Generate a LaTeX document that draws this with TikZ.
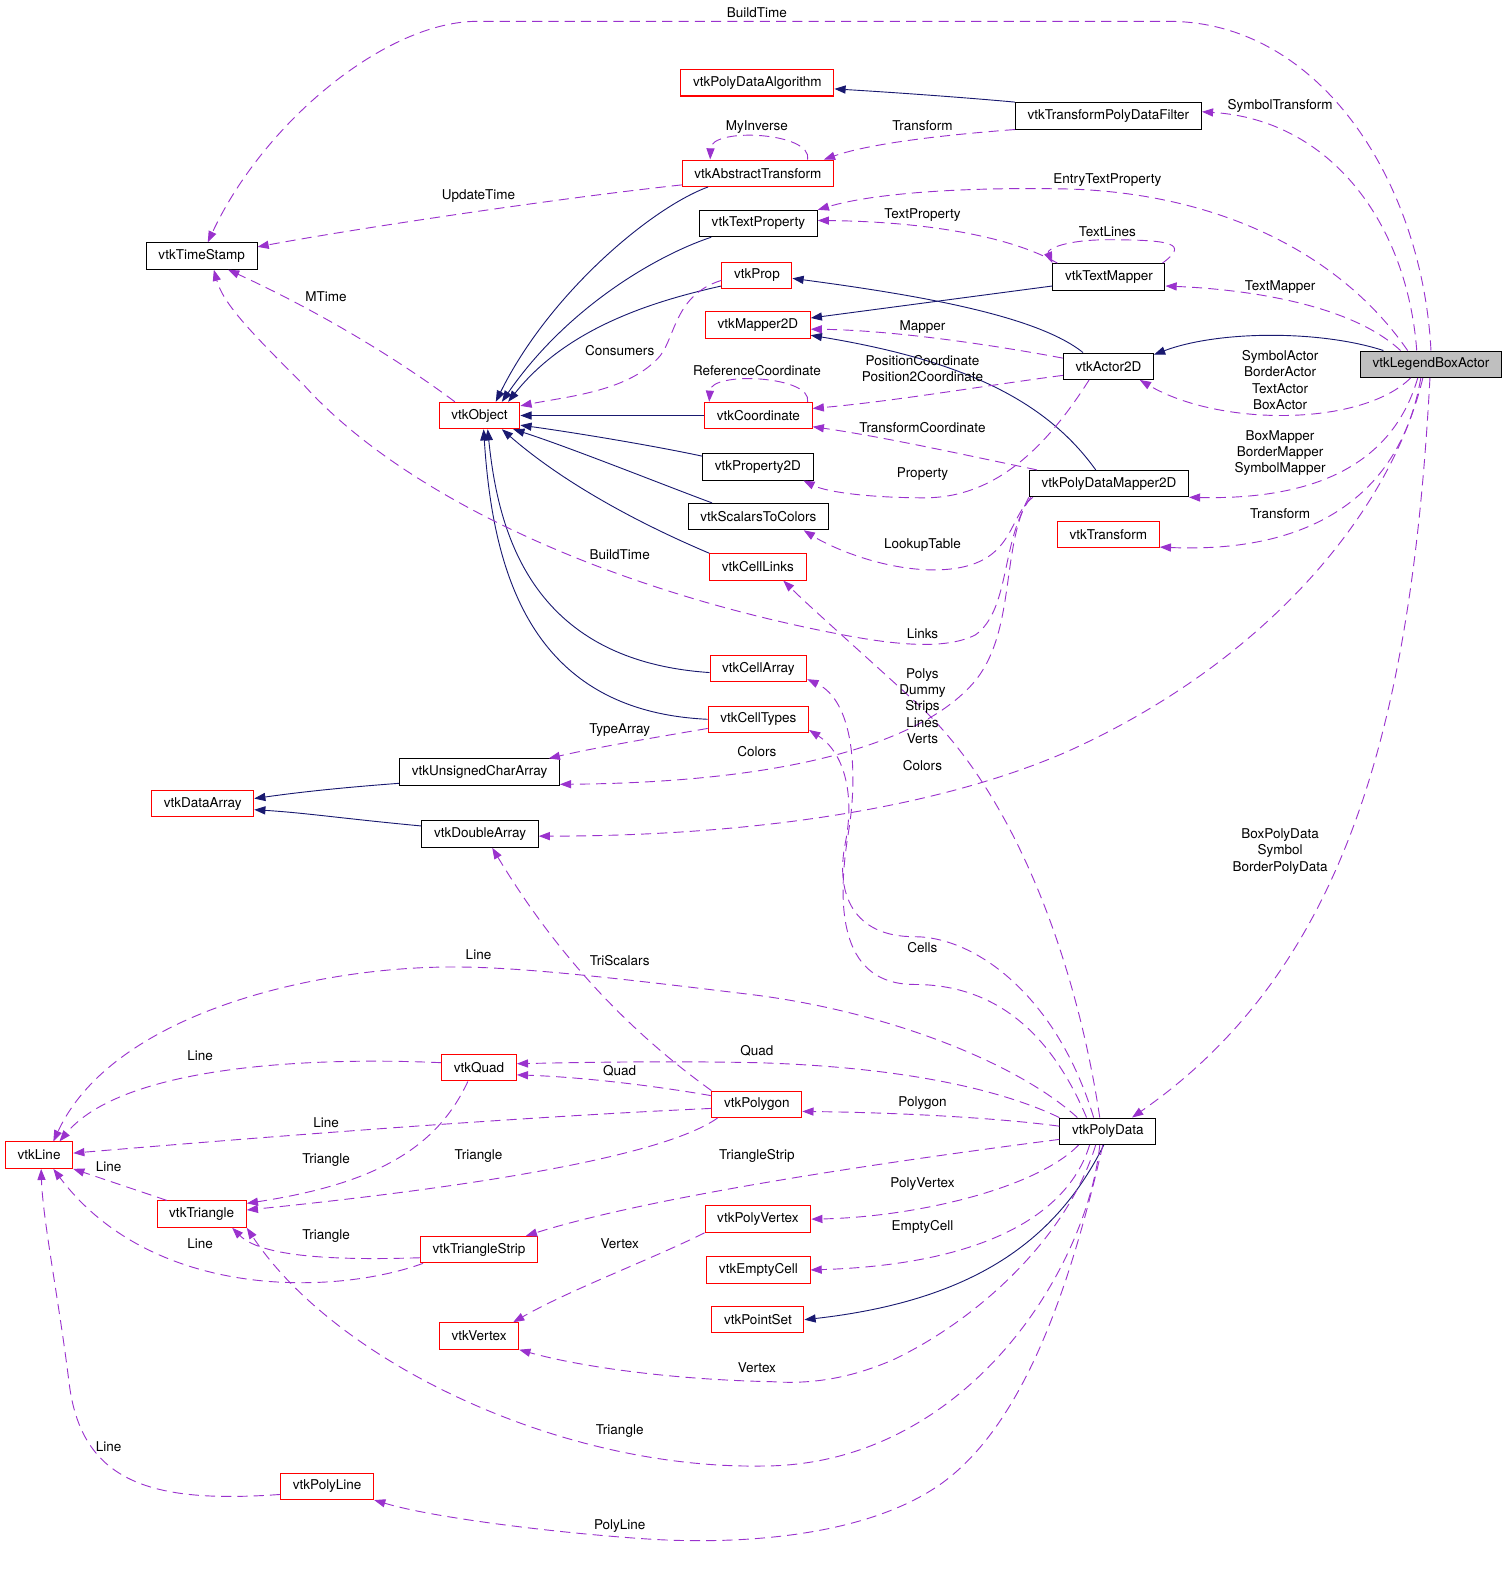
\documentclass[tikz,border=0pt]{standalone}
\usepackage{fontspec}
\setmainfont{TeX Gyre Heros}
\usetikzlibrary{arrows.meta,calc}
\definecolor{inhblue}{HTML}{191970}
\definecolor{usepurple}{HTML}{9A32CD}
\definecolor{docred}{HTML}{FF0000}
\definecolor{rootgray}{HTML}{BFBFBF}
\begin{document}
\begin{tikzpicture}[x=1pt,y=-1pt,
        cls/.style={draw=black,line width=1pt,fill=white,font=\fontsize{13.3}{16}\selectfont,inner xsep=12pt,inner ysep=0pt,minimum height=26pt},
        redcls/.style={cls,draw=docred},
        rootcls/.style={cls,fill=rootgray},
        lbl/.style={font=\fontsize{13.3}{16}\selectfont,inner sep=0pt,align=center},
        inh/.style={draw=inhblue,line width=0.9pt,-{Triangle[length=11pt,width=8pt]}},
        usage/.style={draw=usepurple,line width=0.9pt,dash pattern=on 10pt off 6pt,-{Triangle[length=11pt,width=8pt]}}]
            \useasboundingbox (0,0) rectangle (1483,1568);
            \node [rootcls] (lba) at (1408.5,358.5) {vtkLegendBoxActor};
            \node [redcls] (pda) at (745.5,81.5) {vtkPolyDataAlgorithm};
            \node [cls] (tpdf) at (1091,114) {vtkTransformPolyDataFilter};
            \node [redcls] (at) at (746,170.5) {vtkAbstractTransform};
            \node [cls] (tp) at (746.5,220) {vtkTextProperty};
            \node [cls] (ts) at (198.5,252) {vtkTimeStamp};
            \node [redcls] (prop) at (745,271) {vtkProp};
            \node [cls] (tm) at (1091.5,272.5) {vtkTextMapper};
            \node [redcls] (m2d) at (746,320) {vtkMapper2D};
            \node [cls] (a2d) at (1091,360.5) {vtkActor2D};
            \node [redcls] (obj) at (472,409) {vtkObject};
            \node [redcls] (coord) at (746.5,409) {vtkCoordinate};
            \node [cls] (p2d) at (746,459.5) {vtkProperty2D};
            \node [cls] (pdm) at (1091.5,476) {vtkPolyDataMapper2D};
            \node [cls] (stc) at (746.5,508.5) {vtkScalarsToColors};
            \node [redcls] (tr) at (1091,526) {vtkTransform};
            \node [redcls] (cl) at (746,558) {vtkCellLinks};
            \node [redcls] (ca) at (746.5,658) {vtkCellArray};
            \node [redcls] (ct) at (746.5,708) {vtkCellTypes};
            \node [cls] (uca) at (472,760) {vtkUnsignedCharArray};
            \node [redcls] (da) at (199.5,791) {vtkDataArray};
            \node [cls] (dbl) at (472.5,821) {vtkDoubleArray};
            \node [redcls] (quad) at (471.5,1051) {vtkQuad};
            \node [redcls] (pg) at (745,1087) {vtkPolygon};
            \node [cls] (pd) at (1090.5,1113.5) {vtkPolyData};
            \node [redcls] (line) at (38.5,1137) {vtkLine};
            \node [redcls] (tri) at (198.5,1195) {vtkTriangle};
            \node [redcls] (pv) at (746,1200) {vtkPolyVertex};
            \node [redcls] (tstrip) at (471.5,1230) {vtkTriangleStrip};
            \node [redcls] (ec) at (746.5,1250) {vtkEmptyCell};
            \node [redcls] (ps) at (746,1299) {vtkPointSet};
            \node [redcls] (vx) at (471.5,1315) {vtkVertex};
            \node [redcls] (pl) at (322,1463) {vtkPolyLine};
            \draw [inh] (tpdf.north west) .. controls (950,96) and (880,91) .. ($(pda.east)+(0,6)$);
            \draw [inh] ($(at.south)+(-49,0)$) .. controls (640,205) and (540,290) .. ($(obj.north)+(16,0)$);
            \draw [inh] ($(tp.south west)+(12,0)$) .. controls (650,250) and (560,300) .. ($(obj.north)+(22,0)$);
            \draw [inh] ($(prop.south west)+(0,-3)$) .. controls (650,295) and (560,320) .. ($(obj.north east)+(-12,0)$);
            \draw [inh] (coord.west) -- (obj.east);
            \draw [inh] ($(p2d.north west)+(0,3)$) .. controls (640,438) and (560,425) .. ($(obj.south east)+(0,-4)$);
            \draw [inh] ($(stc.north west)+(24,0)$) .. controls (660,480) and (560,440) .. ($(obj.south east)+(-7,0)$);
            \draw [inh] (cl.north west) .. controls (640,520) and (560,480) .. ($(obj.south)+(22,0)$);
            \draw [inh] ($(ca.west)+(0,4)$) .. controls (520,650) and (490,520) .. ($(obj.south)+(8,0)$);
            \draw [inh] (ct.west) .. controls (520,700) and (485,560) .. ($(obj.south)+(4,0)$);
            \draw [inh] ($(a2d.north)+(-25,0)$) .. controls (1020,310) and (900,290) .. ($(prop.east)+(0,3)$);
            \draw [inh] ($(tm.west)+(0,9)$) -- ($(m2d.east)+(0,-7)$);
            \draw [inh] ($(pdm.north)+(-13,0)$) .. controls (1030,395) and (950,355) .. ($(m2d.east)+(0,10)$);
            \draw [inh] ($(lba.north west)+(23,0)$) .. controls (1300,325) and (1200,325) .. ($(a2d.north east)+(0,2)$);
            \draw [inh] ($(uca.west)+(0,11)$) .. controls (340,775) and (300,779) .. ($(da.east)+(0,-5)$);
            \draw [inh] ($(dbl.west)+(0,-8)$) .. controls (340,806) and (300,800) .. ($(da.east)+(0,6)$);
            \draw [inh] ($(pd.south)+(-4,0)$) .. controls (1040,1220) and (960,1280) .. (ps.east);
            \draw [usage] (lba.north) .. controls (1400,180) and (1300,21) .. (1150,21) -- (470,21) .. controls (380,21) and (260,120) .. ($(ts.north)+(6,0)$);
            \draw [usage] ($(lba.north)+(-14,0)$) .. controls (1385,220) and (1310,118) .. ($(tpdf.east)+(0,-4)$);
            \draw [usage] ($(lba.north)+(-23,0)$) .. controls (1320,250) and (1200,190) .. (1050,186) .. controls (950,184) and (860,190) .. (tp.north east);
            \draw [usage] ($(lba.north)+(-30,0)$) .. controls (1330,300) and (1230,285) .. ($(tm.east)+(0,9)$);
            \draw [usage] ($(lba.south)+(-20,0)$) .. controls (1340,420) and (1200,420) .. ($(a2d.south east)+(-14,0)$);
            \draw [usage] ($(lba.south)+(-13,0)$) .. controls (1370,460) and (1290,492) .. (pdm.south east);
            \draw [usage] ($(lba.south)+(-10,0)$) .. controls (1380,480) and (1300,545) .. ($(tr.south east)+(0,-1)$);
            \draw [usage] ($(lba.south)+(-8,0)$) .. controls (1370,500) and (1250,650) .. (1050,740) .. controls (900,805) and (700,823) .. ($(dbl.east)+(0,2)$);
            \draw [usage] ($(lba.south)+(-1,0)$) .. controls (1390,700) and (1330,950) .. ($(pd.north east)+(-24,0)$);
            \draw [usage] (tpdf.south west) .. controls (940,132) and (860,140) .. ($(at.north east)+(-10,0)$);
            \draw [usage] ($(at.north)+(49,0)$) .. controls (800,130) and (700,125) .. ($(at.north west)+(28,0)$);
            \draw [usage] ($(at.south west)+(0,-2)$) .. controls (550,195) and (350,225) .. ($(ts.east)+(0,-9)$);
            \draw [usage] ($(tm.north west)+(5,0)$) .. controls (990,230) and (900,218) .. ($(tp.east)+(0,-3)$);
            \draw [usage] ($(tm.north east)+(-3,0)$) .. controls (1170,240) and (1155,236) .. (1090,236) .. controls (1050,236) and (1030,245) .. (tm.north west);
            \draw [usage] ($(a2d.west)+(0,-8)$) .. controls (980,340) and (880,325) .. ($(m2d.east)+(0,4)$);
            \draw [usage] ($(a2d.west)+(0,9)$) .. controls (980,378) and (880,395) .. ($(coord.east)+(0,-7)$);
            \draw [usage] ($(a2d.south)+(-19,0)$) .. controls (1030,440) and (980,490) .. (910,490) .. controls (860,490) and (815,485) .. ($(p2d.south east)+(-10,0)$);
            \draw [usage] ($(pdm.north west)+(8,0)$) .. controls (960,450) and (870,430) .. ($(coord.east)+(0,11)$);
            \draw [usage] ($(coord.north east)+(-5,0)$) .. controls (800,370) and (700,365) .. ($(coord.north west)+(5,0)$);
            \draw [usage] ($(obj.north west)+(16,0)$) .. controls (380,345) and (300,300) .. ($(ts.south)+(26,0)$);
            \draw [usage] ($(prop.west)+(0,5)$) .. controls (665,290) and (665,330) .. (650,350) .. controls (620,385) and (560,390) .. ($(obj.north east)+(0,4)$);
            \draw [usage] ($(pdm.south west)+(4,0)$) .. controls (990,510) and (1000,560) .. (920,561) .. controls (870,561) and (820,540) .. ($(stc.south east)+(-25,0)$);
            \draw [usage] ($(pdm.south west)+(2,0)$) .. controls (985,530) and (995,600) .. (960,625) .. controls (930,640) and (880,635) .. (820,623) .. controls (600,580) and (400,490) .. (300,380) .. controls (250,330) and (220,300) .. ($(ts.south)+(12,0)$);
            \draw [usage] (pdm.south west) .. controls (985,540) and (1000,620) .. (960,670) .. controls (910,730) and (780,770) .. ($(uca.east)+(0,12)$);
            \draw [usage] ($(ct.west)+(0,9)$) .. controls (650,725) and (590,735) .. ($(uca.north east)+(-11,0)$);
            \draw [usage] ($(pd.north)+(-8,0)$) .. controls (1060,950) and (1000,780) .. (900,690) .. controls (840,635) and (800,600) .. ($(cl.south)+(25,0)$);
            \draw [usage] ($(pd.north)+(-21,0)$) .. controls (1040,1030) and (990,969) .. (900,969) .. controls (830,969) and (822,900) .. (835,820) .. controls (845,760) and (840,690) .. ($(ca.south east)+(0,-3)$);
            \draw [usage] ($(pd.north)+(-14,0)$) .. controls (1040,980) and (960,922) .. (900,922) .. controls (840,922) and (822,880) .. (832,830) .. controls (842,780) and (830,740) .. ($(ct.south east)+(0,-3)$);
            \draw [usage] (pd.north west) .. controls (980,1070) and (880,1050) .. (745,1046) .. controls (650,1044) and (560,1046) .. ($(quad.east)+(0,-4)$);
            \draw [usage] ($(pd.west)+(0,-5)$) .. controls (980,1100) and (880,1095) .. ($(pg.east)+(0,7)$);
            \draw [usage] ($(pd.north)+(-30,0)$) .. controls (1000,1045) and (870,995) .. (740,979) .. controls (600,962) and (500,950) .. (430,952) .. controls (300,955) and (110,1000) .. ($(line.north)+(14,0)$);
            \draw [usage] ($(pd.west)+(0,8)$) .. controls (900,1140) and (650,1175) .. ($(tstrip.north east)+(-12,0)$);
            \draw [usage] ($(pd.south west)+(19,0)$) .. controls (1020,1170) and (900,1198) .. (pv.east);
            \draw [usage] ($(pd.south)+(-18,0)$) .. controls (1050,1200) and (960,1245) .. (ec.east);
            \draw [usage] ($(pd.south)+(-12,0)$) .. controls (1050,1220) and (960,1300) .. (880,1338) .. controls (830,1360) and (790,1362) .. (760,1360) .. controls (660,1358) and (570,1345) .. (vx.south east);
            \draw [usage] ($(pd.south)+(-8,0)$) .. controls (1070,1250) and (950,1443) .. (750,1443) .. controls (550,1446) and (330,1340) .. (tri.south east);
            \draw [usage] ($(pd.south)+(-5,0)$) .. controls (1055,1260) and (1010,1400) .. (927,1460) .. controls (850,1515) and (720,1520) .. (640,1515) .. controls (560,1510) and (430,1495) .. (pl.south east);
            \draw [usage] ($(pg.north west)+(0,5)$) .. controls (640,1068) and (570,1060) .. ($(quad.east)+(0,7)$);
            \draw [usage] ($(pg.west)+(0,4)$) .. controls (500,1100) and (250,1120) .. ($(line.east)+(0,-2)$);
            \draw [usage] ($(pg.south west)+(6,0)$) .. controls (650,1140) and (450,1170) .. ($(tri.east)+(0,-4)$);
            \draw [usage] (pg.north west) .. controls (640,1030) and (560,960) .. ($(dbl.south)+(12,0)$);
            \draw [usage] ($(quad.west)+(0,-5)$) .. controls (300,1040) and (120,1050) .. ($(line.north)+(20,0)$);
            \draw [usage] ($(quad.south)+(-11,0)$) .. controls (430,1130) and (370,1165) .. ($(tri.north east)+(0,3)$);
            \draw [usage] ($(tri.north west)+(10,0)$) .. controls (130,1170) and (100,1160) .. (line.south east);
            \draw [usage] ($(tstrip.west)+(0,8)$) .. controls (350,1240) and (260,1240) .. ($(tri.south)+(30,0)$);
            \draw [usage] ($(tstrip.south west)+(3,0)$) .. controls (330,1275) and (150,1280) .. ($(line.south)+(14,0)$);
            \draw [usage] (pv.south west) .. controls (640,1240) and (560,1270) .. ($(vx.north east)+(-6,0)$);
            \draw [usage] ($(pl.west)+(0,8)$) .. controls (150,1480) and (80,1460) .. (68,1361) .. controls (58,1280) and (42,1200) .. ($(line.south)+(2,0)$);
            \node [lbl] (lBuildTimeTop) at (745,12) {BuildTime};
            \node [lbl] (lSymbolTransform) at (1260,104) {SymbolTransform};
            \node [lbl] (lTransformAT) at (908,124) {Transform};
            \node [lbl] (lMyInverse) at (745,125) {MyInverse};
            \node [lbl] (lEntryTextProperty) at (1090,177) {EntryTextProperty};
            \node [lbl] (lUpdateTime) at (471,193) {UpdateTime};
            \node [lbl] (lTextProperty) at (908,212) {TextProperty};
            \node [lbl] (lTextLines) at (1090,228) {TextLines};
            \node [lbl] (lTextMapper) at (1260,283) {TextMapper};
            \node [lbl] (lMTime) at (321,292) {MTime};
            \node [lbl] (lMapper) at (908,322) {Mapper};
            \node [lbl] (lConsumers) at (610,345) {Consumers};
            \node [lbl] (lActors) at (1260,374) {SymbolActor\\BorderActor\\TextActor\\BoxActor};
            \node [lbl] (lPosition) at (908,362.5) {PositionCoordinate\\Position2Coordinate};
            \node [lbl] (lReference) at (745,365) {ReferenceCoordinate};
            \node [lbl] (lTransformCoord) at (908,421) {TransformCoordinate};
            \node [lbl] (lMappers) at (1260,446) {BoxMapper\\BorderMapper\\SymbolMapper};
            \node [lbl] (lProperty) at (908,467) {Property};
            \node [lbl] (lTransformLBA) at (1260,506) {Transform};
            \node [lbl] (lLookupTable) at (908,536) {LookupTable};
            \node [lbl] (lBuildTimeMid) at (610,546) {BuildTime};
            \node [lbl] (lLinks) at (908,624) {Links};
            \node [lbl] (lCellArrays) at (908,695) {Polys\\Dummy\\Strips\\Lines\\Verts};
            \node [lbl] (lTypeArray) at (610,719) {TypeArray};
            \node [lbl] (lColorsUca) at (745,740) {Colors};
            \node [lbl] (lColorsDbl) at (908,754) {Colors};
            \node [lbl] (lPolyDatas) at (1260,838) {BoxPolyData\\Symbol\\BorderPolyData};
            \node [lbl] (lCells) at (908,933) {Cells};
            \node [lbl] (lLinePd) at (471,940) {Line};
            \node [lbl] (lTriScalars) at (610,945) {TriScalars};
            \node [lbl] (lQuadPd) at (745,1034) {Quad};
            \node [lbl] (lLineQuad) at (197,1039) {Line};
            \node [lbl] (lQuadPg) at (610,1054) {Quad};
            \node [lbl] (lPolygon) at (908,1086) {Polygon};
            \node [lbl] (lLinePg) at (321,1105) {Line};
            \node [lbl] (lTrianglePg) at (471,1138) {Triangle};
            \node [lbl] (lTriangleStrip) at (745,1138) {TriangleStrip};
            \node [lbl] (lTriangleQuad) at (321,1142) {Triangle};
            \node [lbl] (lLineTri) at (107,1148) {Line};
            \node [lbl] (lPolyVertex) at (908,1165) {PolyVertex};
            \node [lbl] (lEmptyCell) at (908,1208) {EmptyCell};
            \node [lbl] (lTriangleStripTri) at (321,1217) {Triangle};
            \node [lbl] (lLineStrip) at (197,1224) {Line};
            \node [lbl] (lVertexPv) at (610,1224) {Vertex};
            \node [lbl] (lVertexPd) at (745,1346) {Vertex};
            \node [lbl] (lTrianglePd) at (610,1409) {Triangle};
            \node [lbl] (lLinePl) at (107,1424) {Line};
            \node [lbl] (lPolyLine) at (610,1502) {PolyLine};
        \end{tikzpicture}
\end{document}
